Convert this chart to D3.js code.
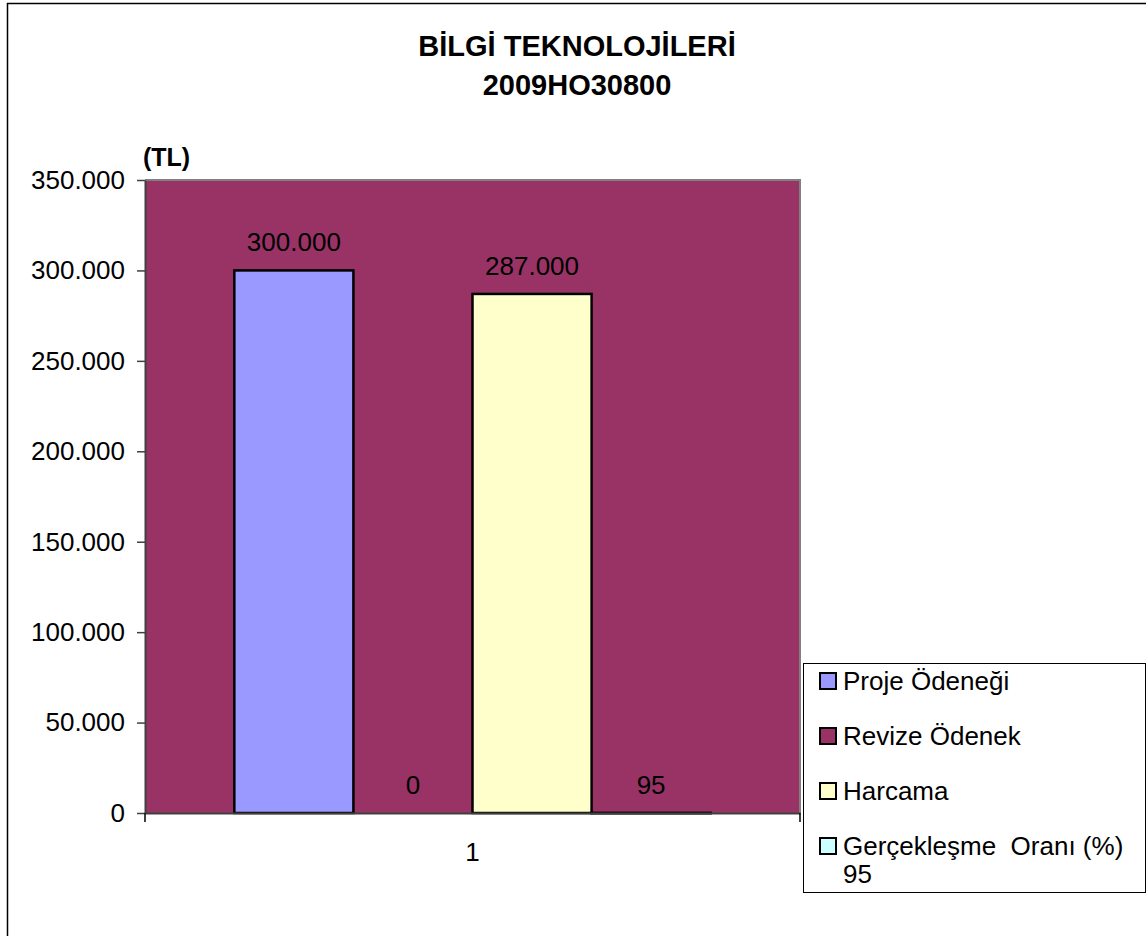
<!DOCTYPE html>
<html>
<head>
<meta charset="utf-8">
<script src="https://cdn.jsdelivr.net/npm/d3@7"></script>
<style>
  html, body { margin: 0; padding: 0; background: #fff; }
  svg { display: block; font-family: "Liberation Sans", Arial, sans-serif; }
</style>
</head>
<body>
<svg id="chart" width="1146" height="936"></svg>
<script>
// ---- data ----
const titleLines = ["BİLGİ TEKNOLOJİLERİ", "2009HO30800"];
const unitLabel = "(TL)";
const categories = ["1"];
const seriesNames = ["Proje Ödeneği", "Revize Ödenek", "Harcama", "Gerçekleşme  Oranı (%)"];
const legendExtra = ["", "", "", "95"];
const seriesValues = [300000, 0, 287000, 95];
const seriesColors = ["#9999FF", "#993366", "#FFFFCC", "#CCFFFF"];
const yTicks = [0, 50000, 100000, 150000, 200000, 250000, 300000, 350000];

// ---- layout ----
const svg = d3.select("#chart");
const plot = { left: 145, top: 180, right: 800, bottom: 813 };
const plotBg = "#993366";

const locale = d3.formatLocale({ decimal: ",", thousands: ".", grouping: [3], currency: ["", ""] });
const fmt = locale.format(",");

// outer chart border (extends past the viewport on right/bottom)
svg.append("rect")
  .attr("x", 7.5).attr("y", 3.5).attr("width", 1300).attr("height", 1100)
  .attr("fill", "none").attr("stroke", "#000").attr("stroke-width", 1.5);

// title
svg.append("g").selectAll("text").data(titleLines).join("text")
  .attr("x", 577).attr("y", (d, i) => 56 + i * 39)
  .attr("text-anchor", "middle")
  .attr("font-size", 29).attr("font-weight", "bold").attr("fill", "#000")
  .text(d => d);

const y = d3.scaleLinear().domain([0, 350000]).range([plot.bottom, plot.top]);
const x0 = d3.scaleBand().domain(categories).range([plot.left, plot.right])
  .paddingInner(0).paddingOuter(0.1875);
const x1 = d3.scaleBand().domain(seriesNames).range([0, x0.bandwidth()]).padding(0);

// plot background
svg.append("rect")
  .attr("x", plot.left).attr("y", plot.top)
  .attr("width", plot.right - plot.left).attr("height", plot.bottom - plot.top)
  .attr("fill", plotBg);
// top and right plot borders (gray)
svg.append("path")
  .attr("d", `M${plot.left},${plot.top}H${plot.right}V${plot.bottom}`)
  .attr("fill", "none").attr("stroke", "#808080").attr("stroke-width", 2);

// bars
const groups = svg.append("g").selectAll("g").data(categories).join("g")
  .attr("transform", d => `translate(${x0(d)},0)`);
groups.selectAll("rect")
  .data(() => seriesNames.map((s, i) => ({ s, v: seriesValues[i], c: seriesColors[i] })).filter(d => d.v > 0))
  .join("rect")
  .attr("x", d => x1(d.s))
  .attr("y", d => y(d.v))
  .attr("width", x1.bandwidth())
  .attr("height", d => Math.max(0.5, y(0) - y(d.v)))
  .attr("fill", d => d.c)
  .attr("stroke", "#000").attr("stroke-width", 2.5);

// data labels
groups.selectAll("text.lbl")
  .data(() => seriesNames.map((s, i) => ({ s, v: seriesValues[i] })))
  .join("text").attr("class", "lbl")
  .attr("x", d => x1(d.s) + x1.bandwidth() / 2)
  .attr("y", d => y(d.v) - 19)
  .attr("text-anchor", "middle").attr("font-size", 26).attr("fill", "#000")
  .text(d => fmt(d.v));

// y axis
const yAxis = svg.append("g").attr("transform", `translate(${plot.left},0)`)
  .call(d3.axisLeft(y).tickValues(yTicks).tickFormat(fmt).tickSizeInner(8).tickSizeOuter(0).tickPadding(12));
yAxis.select(".domain").attr("stroke", "#404040").attr("stroke-width", 2);
yAxis.selectAll(".tick line").attr("stroke", "#404040").attr("stroke-width", 1.5);
yAxis.selectAll(".tick text").attr("font-size", 26).attr("fill", "#000")
  .attr("font-family", "Liberation Sans, Arial, sans-serif");

// x axis
const xAxis = svg.append("g").attr("transform", `translate(0,${plot.bottom})`)
  .call(d3.axisBottom(x0).tickSize(0).tickPadding(30));
xAxis.select(".domain").attr("stroke", "#404040").attr("stroke-width", 2);
xAxis.selectAll(".tick text").attr("font-size", 26).attr("fill", "#000")
  .attr("font-family", "Liberation Sans, Arial, sans-serif");
// category boundary tick marks
xAxis.selectAll("line.bound").data([plot.left, plot.right]).join("line").attr("class", "bound")
  .attr("x1", d => d).attr("x2", d => d).attr("y1", 0).attr("y2", 9)
  .attr("stroke", "#000").attr("stroke-width", 1.5);

// unit label
svg.append("text").attr("x", 143).attr("y", 166)
  .attr("font-size", 25).attr("font-weight", "bold").attr("fill", "#000")
  .text(unitLabel);

// legend
const lg = svg.append("g").attr("transform", "translate(803,663)");
lg.append("rect").attr("x", 0.5).attr("y", 0.5).attr("width", 342).attr("height", 229)
  .attr("fill", "#fff").attr("stroke", "#000").attr("stroke-width", 1);
const items = lg.selectAll("g.item").data(seriesNames).join("g").attr("class", "item")
  .attr("transform", (d, i) => `translate(0,${27 + i * 55})`);
items.append("rect").attr("x", 17).attr("y", -17).attr("width", 16).attr("height", 16)
  .attr("fill", (d, i) => seriesColors[i]).attr("stroke", "#000").attr("stroke-width", 2);
items.append("text").attr("x", 40).attr("y", 0).attr("font-size", 26).attr("fill", "#000")
  .attr("xml:space", "preserve").style("white-space", "pre")
  .text(d => d);
items.append("text").attr("x", 40).attr("y", 28).attr("font-size", 26).attr("fill", "#000")
  .text((d, i) => legendExtra[i]);
</script>
</body>
</html>
